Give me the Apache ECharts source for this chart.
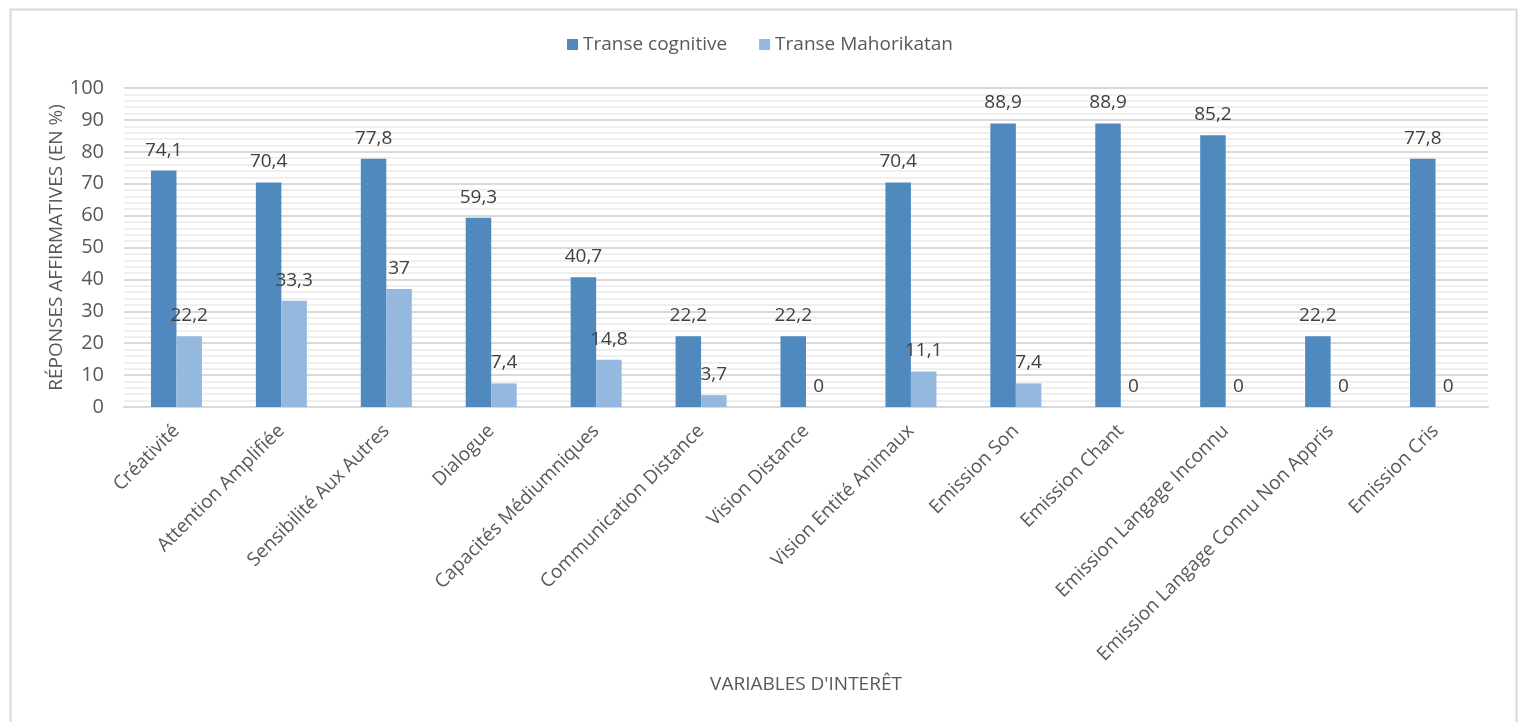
<!DOCTYPE html>
<html>
<head>
<meta charset="utf-8">
<script src="https://cdn.jsdelivr.net/npm/echarts@6/dist/echarts.min.js"></script>
<style>
  html, body { margin: 0; padding: 0; background: #fff; }
  #myChart { width: 1520px; height: 722px; }
</style>
</head>
<body>
<div id="myChart"></div>
<script>
// categories and values
const categories = [
  'Créativité', 'Attention Amplifiée', 'Sensibilité Aux Autres', 'Dialogue',
  'Capacités Médiumniques', 'Communication Distance', 'Vision Distance',
  'Vision Entité Animaux', 'Emission Son', 'Emission Chant',
  'Emission Langage Inconnu', 'Emission Langage Connu Non Appris', 'Emission Cris'
]
const cognitive = [74.1, 70.4, 77.8, 59.3, 40.7, 22.2, 22.2, 70.4, 88.9, 88.9, 85.2, 22.2, 77.8]
const mahorikatan = [22.2, 33.3, 37, 7.4, 14.8, 3.7, 0, 11.1, 7.4, 0, 0, 0, 0]
const yTicks = [0, 10, 20, 30, 40, 50, 60, 70, 80, 90, 100]

const font = 'Open Sans'
let myChart = echarts.init(document.getElementById('myChart'))

function labelOpt () {
  return {
    show: true,
    position: 'top',
    distance: 11,
    color: '#404040',
    fontFamily: font,
    fontSize: 19,
    formatter: p => String(p.value).replace('.', ',')
  }
}

let option = {
  animation: false,
  textStyle: { fontFamily: font },
  graphic: [{
    type: 'rect',
    left: 8,
    top: 7,
    shape: { width: 1506, height: 740 },
    style: { fill: 'none', stroke: '#d9d9d9', lineWidth: 2 },
    silent: true
  }],
  legend: {
    top: 30,
    left: 'center',
    itemWidth: 11,
    itemHeight: 11,
    itemGap: 32,
    icon: 'rect',
    textStyle: { color: '#595959', fontSize: 19, fontFamily: font },
    data: ['Transe cognitive', 'Transe Mahorikatan']
  },
  grid: {
    left: 124,
    right: 32,
    top: 88,
    bottom: 315
  },
  xAxis: {
    type: 'category',
    data: categories,
    name: "VARIABLES D'INTERÊT",
    nameLocation: 'middle',
    nameGap: 268,
    nameMoveOverlap: false,
    nameTextStyle: { color: '#595959', fontSize: 19, fontFamily: font },
    axisLine: { lineStyle: { color: '#d9d9d9', width: 2 } },
    axisTick: { show: false },
    axisLabel: {
      rotate: 45,
      interval: 0,
      margin: 21,
      color: '#595959',
      fontSize: 19,
      fontFamily: font
    }
  },
  yAxis: {
    type: 'value',
    min: yTicks[0],
    max: yTicks[yTicks.length - 1],
    interval: 10,
    name: 'RÉPONSES AFFIRMATIVES (EN %)',
    nameLocation: 'middle',
    nameGap: 58,
    nameMoveOverlap: false,
    nameRotate: 90,
    nameTextStyle: { color: '#595959', fontSize: 19, fontFamily: font },
    axisLine: { show: false },
    axisTick: { show: false },
    axisLabel: { color: '#595959', fontSize: 20, fontFamily: font, margin: 20 },
    splitLine: { lineStyle: { color: '#d9d9d9', width: 2 } },
    minorTick: { show: false, splitNumber: 5 },
    minorSplitLine: { show: true, lineStyle: { color: '#efefef', width: 2 } }
  },
  series: [
    {
      name: 'Transe cognitive',
      type: 'bar',
      barWidth: 25.5,
      barGap: '0%',
      itemStyle: { color: '#4f89bd' },
      label: labelOpt(),
      data: cognitive
    },
    {
      name: 'Transe Mahorikatan',
      type: 'bar',
      barWidth: 25.5,
      itemStyle: { color: '#95b8df' },
      label: labelOpt(),
      data: mahorikatan
    }
  ]
}
myChart.setOption(option)
</script>
</body>
</html>
